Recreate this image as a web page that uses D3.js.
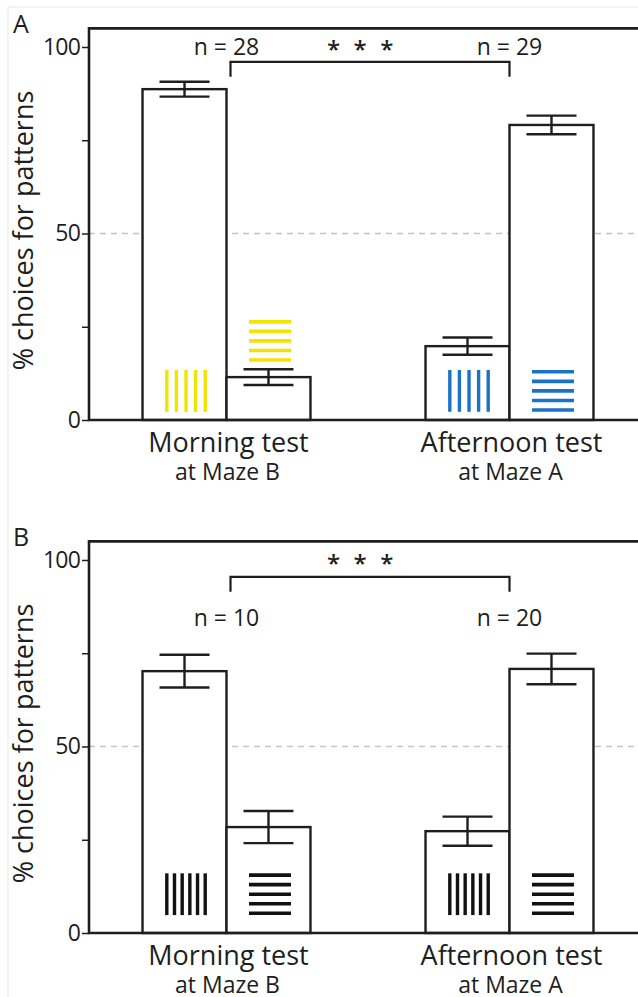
<!DOCTYPE html>
<html>
<head>
<meta charset="utf-8">
<script src="https://cdn.jsdelivr.net/npm/d3@7/dist/d3.min.js"></script>
<style>
  html, body { margin: 0; padding: 0; background: #fff; }
  svg { display: block; font-family: "Open Sans", "Noto Sans", sans-serif; }
</style>
</head>
<body>
<svg id="chart" width="638" height="997"></svg>
<script>
// Test sessions (x categories) and the maze each took place at
const groups = ["Morning test", "Afternoon test"];
const groupSubtitles = ["at Maze B", "at Maze A"];
// Two bars per session: choices for the vertical-stripe and the horizontal-stripe pattern
const patternKinds = ["vertical", "horizontal"];

// Panel A: % choices (mean) and error half-widths, per session
const panelAVertical = [88.7, 19.8];
const panelAVerticalErr = [2.0, 2.3];
const panelAHorizontal = [11.5, 79.1];
const panelAHorizontalErr = [2.1, 2.5];
const panelASampleSizes = [28, 29];
const panelAPatternColors = ["#f3e300", "#1b73c6"];
const panelAPatternBase = [[2.2, 15.6], [2.2, 2.2]];
const panelAVerticalStripes = 5;

// Panel B
const panelBVertical = [70.2, 27.3];
const panelBVerticalErr = [4.4, 3.9];
const panelBHorizontal = [28.4, 70.8];
const panelBHorizontalErr = [4.3, 4.1];
const panelBSampleSizes = [10, 20];
const panelBPatternColors = ["#111111", "#111111"];
const panelBPatternBase = [[4.8, 4.8], [4.8, 4.8]];
const panelBVerticalStripes = 6;

const significance = "* * *";
const yTicks = [0, 25, 50, 75, 100];
const yLabelledTicks = [0, 50, 100];
const yTitle = "% choices for patterns";
const panelLetters = ["A", "B"];

const panels = [
  {
    letter: panelLetters[0], top: 0,
    values: { vertical: panelAVertical, horizontal: panelAHorizontal },
    errs: { vertical: panelAVerticalErr, horizontal: panelAHorizontalErr },
    n: panelASampleSizes, colors: panelAPatternColors, base: panelAPatternBase,
    vStripes: panelAVerticalStripes, bracket: 96, nAt: 97.9, starsAt: 97.1
  },
  {
    letter: panelLetters[1], top: 513,
    values: { vertical: panelBVertical, horizontal: panelBHorizontal },
    errs: { vertical: panelBVerticalErr, horizontal: panelBHorizontalErr },
    n: panelBSampleSizes, colors: panelBPatternColors, base: panelBPatternBase,
    vStripes: panelBVerticalStripes, bracket: 95.5, nAt: 82.3, starsAt: 96.8
  }
];

const svg = d3.select("#chart");
const ink = "#1e1e1e";
const left = 89, right = 638;

// faint edge lines of the figure canvas
svg.append("line").attr("x1", 8).attr("x2", 8).attr("y1", 7).attr("y2", 997)
  .attr("stroke", "#e8e8e8").attr("stroke-width", 1);
svg.append("line").attr("x1", 8).attr("x2", 638).attr("y1", 7).attr("y2", 7)
  .attr("stroke", "#e8e8e8").attr("stroke-width", 1);

const xGroup = d3.scaleBand().domain(groups).range([85, 651]).paddingInner(0).paddingOuter(0);
const xSub = d3.scaleBand().domain(patternKinds).range([0, xGroup.bandwidth()])
  .paddingInner(0).paddingOuter(0.685);

panels.forEach(p => {
  const g = svg.append("g").attr("transform", `translate(0,${p.top})`);
  const y = d3.scaleLinear().domain([0, 100]).range([420, 47]);

  // reference line at chance level
  g.append("line").attr("x1", left).attr("x2", right)
    .attr("y1", y(50)).attr("y2", y(50))
    .attr("stroke", "#c4c4c4").attr("stroke-width", 1.3).attr("stroke-dasharray", "6,5");

  // bars
  const bars = [];
  groups.forEach((grp, gi) => {
    patternKinds.forEach(kind => {
      bars.push({ grp, gi, kind, v: p.values[kind][gi], e: p.errs[kind][gi] });
    });
  });

  g.selectAll("rect.bar").data(bars).join("rect").attr("class", "bar")
    .attr("x", d => xGroup(d.grp) + xSub(d.kind))
    .attr("width", xSub.bandwidth())
    .attr("y", d => y(d.v))
    .attr("height", d => y(0) - y(d.v))
    .attr("fill", "#fff").attr("stroke", ink).attr("stroke-width", 2.4);

  // error bars
  const capHalf = 25;
  const eb = g.selectAll("g.err").data(bars).join("g").attr("class", "err")
    .attr("transform", d => `translate(${xGroup(d.grp) + xSub(d.kind) + xSub.bandwidth() / 2},0)`)
    .attr("stroke", ink).attr("stroke-width", 2.4);
  eb.append("line").attr("x1", 0).attr("x2", 0)
    .attr("y1", d => y(d.v + d.e)).attr("y2", d => y(d.v - d.e));
  eb.append("line").attr("x1", -capHalf).attr("x2", capHalf)
    .attr("y1", d => y(d.v + d.e)).attr("y2", d => y(d.v + d.e));
  eb.append("line").attr("x1", -capHalf).attr("x2", capHalf)
    .attr("y1", d => y(d.v - d.e)).attr("y2", d => y(d.v - d.e));

  // stripe pattern icons inside the bars
  const iconH = 11.2, iconW = 42;
  bars.forEach(d => {
    const cx = xGroup(d.grp) + xSub(d.kind) + xSub.bandwidth() / 2 + 1.5;
    const b0 = p.base[d.gi][patternKinds.indexOf(d.kind)];
    const yTop = y(b0 + iconH), yBot = y(b0);
    const col = p.colors[d.gi];
    if (d.kind === "vertical") {
      const n = p.vStripes;
      const xs = d3.range(n).map(i => cx - iconW / 2 + 1.8 + i * (iconW - 3.6) / (n - 1));
      g.selectAll(null).data(xs).join("line")
        .attr("x1", v => v).attr("x2", v => v).attr("y1", yTop).attr("y2", yBot)
        .attr("stroke", col).attr("stroke-width", 3.4);
    } else {
      const n = 5;
      const ys = d3.range(n).map(i => yTop + 1.8 + i * (yBot - yTop - 3.6) / (n - 1));
      g.selectAll(null).data(ys).join("line")
        .attr("x1", cx - iconW / 2).attr("x2", cx + iconW / 2).attr("y1", v => v).attr("y2", v => v)
        .attr("stroke", col).attr("stroke-width", 3.6);
    }
  });

  // frame: top border, left axis, baseline
  g.append("path")
    .attr("d", `M${right},${y(105)}H${left}V${y(0)}H${right}`)
    .attr("fill", "none").attr("stroke", ink).attr("stroke-width", 2.6);

  const axis = d3.axisLeft(y).tickValues(yTicks)
    .tickFormat(d => yLabelledTicks.includes(d) ? d : "")
    .tickSize(7).tickSizeOuter(0).tickPadding(2);
  const ag = g.append("g").attr("transform", `translate(${left},0)`).call(axis);
  ag.select(".domain").remove();
  ag.selectAll(".tick line").attr("stroke", ink).attr("stroke-width", 1.5);
  ag.selectAll(".tick text").attr("font-size", 23).attr("fill", ink)
    .attr("font-family", "'Open Sans', sans-serif").attr("letter-spacing", -0.8);

  // y title
  g.append("text")
    .attr("transform", `translate(33,${y(50) - 3}) rotate(-90)`)
    .attr("text-anchor", "middle").attr("font-size", 27).attr("fill", ink)
    .text(yTitle);

  // panel letter
  g.append("text").attr("x", 13).attr("y", 33).attr("font-size", 25).attr("fill", ink)
    .text(p.letter);

  // session labels
  groups.forEach((grp, gi) => {
    const cx = xGroup(grp) + xGroup.bandwidth() / 2;
    g.append("text").attr("x", cx + 2).attr("y", y(0) + 32)
      .attr("text-anchor", "middle").attr("font-size", 27).attr("fill", ink).text(grp);
    g.append("text").attr("x", cx + 1).attr("y", y(0) + 60)
      .attr("text-anchor", "middle").attr("font-size", 23).attr("fill", ink).text(groupSubtitles[gi]);
    g.append("text").attr("x", cx).attr("y", y(p.nAt))
      .attr("text-anchor", "middle").attr("font-size", 23).attr("fill", ink).text(`n = ${p.n[gi]}`);
  });

  // significance bracket between sessions
  const bx1 = xGroup(groups[0]) + xGroup.bandwidth() / 2 + 4;
  const bx2 = xGroup(groups[1]) + xGroup.bandwidth() / 2;
  g.append("path")
    .attr("d", `M${bx1},${y(p.bracket - 4)}V${y(p.bracket)}H${bx2}V${y(p.bracket - 4)}`)
    .attr("fill", "none").attr("stroke", ink).attr("stroke-width", 2.2);
  g.append("text").attr("x", (bx1 + bx2) / 2 - 8).attr("y", y(p.starsAt))
    .attr("text-anchor", "middle").attr("font-size", 24).attr("font-weight", 600)
    .attr("letter-spacing", 3.6).attr("fill", ink).text(significance);
});
</script>
</body>
</html>
